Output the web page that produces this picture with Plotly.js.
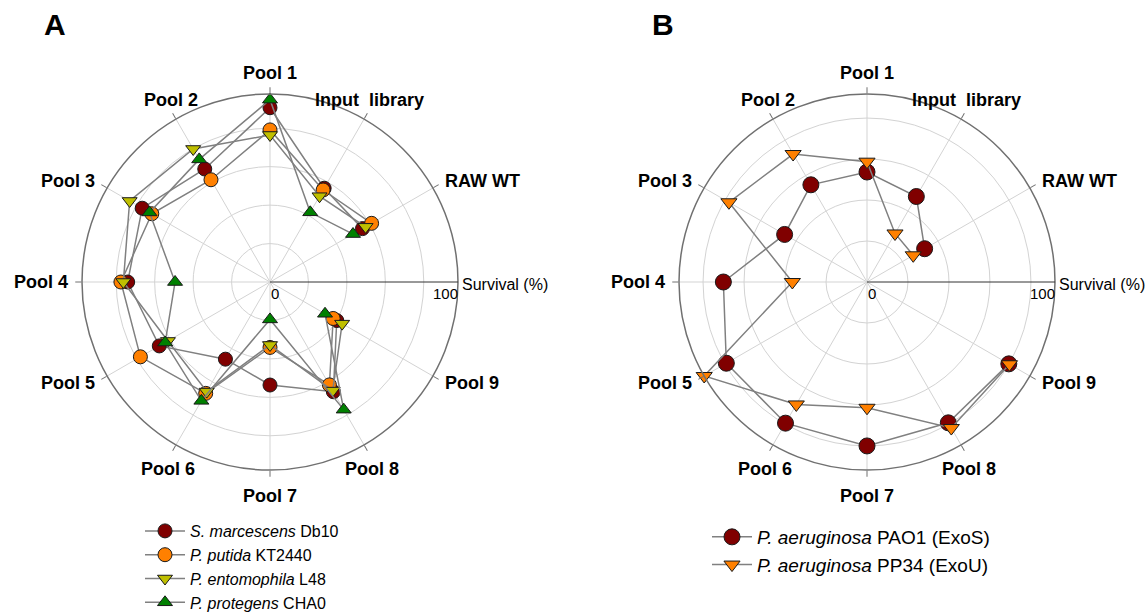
<!DOCTYPE html>
<html>
<head>
<meta charset="utf-8">
<script src="https://cdn.plot.ly/plotly-3.0.1.min.js"></script>
<style>
  html, body { margin: 0; padding: 0; background: #ffffff; }
  #chart { width: 1148px; height: 613px; }
</style>
</head>
<body>
<div id="chart"></div>
<script>
// Categories in drawing order (line runs RAW WT -> Input library -> Pool 1 ... Pool 9)
const categories = ["RAW WT", "Input\u00a0 library", "Pool 1", "Pool 2", "Pool 3", "Pool 4",
                    "Pool 5", "Pool 6", "Pool 7", "Pool 8", "Pool 9"];

// Panel A: survival (%)
const marcescensDb10 = [56.8, 57.6, 92.7, 69.4, 78.5, 75.7, 68.0, 47.4, 54.8, 67.4, 41.0];
const putidaKT2440   = [62.4, 56.5, 80.9, 62.8, 72.6, 79.3, 79.6, 68.4, 34.8, 63.2, 38.8];
const entomophilaL48 = [58.7, 52.7, 78.2, 81.7, 86.2, 78.0, 62.7, 67.3, 33.5, 66.7, 44.3];
const protegensCHA0  = [51.0, 42.8, 97.0, 75.3, 74.0, 50.5, 64.4, 73.0, 19.9, 78.4, 33.8];

// Panel B: survival (%)
const aeruginosaPAO1 = [35.4, 52.5, 58.5, 59.7, 50.6, 76.4, 86.4, 86.7, 87.2, 86.5, 87.1];
const aeruginosaPP34 = [28.4, 29.8, 64.0, 78.6, 84.8, 39.7, 100.0, 75.2, 66.9, 89.7, 87.5];

const seriesNamesA = ["<i>S. marcescens</i> Db10", "<i>P. putida</i> KT2440",
                      "<i>P. entomophila</i> L48", "<i>P. protegens</i> CHA0"];
const seriesNamesB = ["<i>P. aeruginosa</i> PAO1 (ExoS)", "<i>P. aeruginosa</i> PP34 (ExoU)"];

// angular position of each category: 30 degree steps, 0 degrees left empty for the radial axis
const theta = categories.map((c, i) => 30 + 30 * i);

const W = 1148, H = 613;
const FONT = "Liberation Sans, Arial, sans-serif";
const LINE = {color: "#808080", width: 1.5};

// geometry of the two polar panels (pixels)
const R = 188, CY = 282;
const CX_A = 270, CX_B = 867;

function trace(r, name, subplot, legend, group, color, symbol, size) {
  return {
    type: "scatterpolar", mode: "lines+markers",
    r: r, theta: theta, name: name, subplot: subplot, legend: legend, legendgroup: group,
    line: LINE,
    marker: {color: color, symbol: symbol, size: size, line: {color: "#1a1a1a", width: 1}},
    cliponaxis: false
  };
}

const data = [
  trace(marcescensDb10, seriesNamesA[0], "polar", "legend", "a", "#800000", "circle", 14),
  trace(putidaKT2440, seriesNamesA[1], "polar", "legend", "a", "#ff8000", "circle", 14),
  trace(entomophilaL48, seriesNamesA[2], "polar", "legend", "a", "#bfbf00", "triangle-down", 13),
  trace(protegensCHA0, seriesNamesA[3], "polar", "legend", "a", "#008000", "triangle-up", 13),
  trace(aeruginosaPAO1, seriesNamesB[0], "polar2", "legend2", "b", "#800000", "circle", 16),
  trace(aeruginosaPP34, seriesNamesB[1], "polar2", "legend2", "b", "#ff8000", "triangle-down", 14)
];

function polar(cx, gridStep) {
  return {
    domain: {x: [(cx - R) / W, (cx + R) / W], y: [1 - (CY + R) / H, 1 - (CY - R) / H]},
    bgcolor: "#ffffff",
    radialaxis: {
      range: [0, 100], angle: 0,
      tickvals: [1, 2, 3, 4].map(k => k * gridStep),
      showticklabels: false, ticks: "",
      showline: true, linecolor: "#333333", linewidth: 1,
      gridcolor: "#d3d3d3", gridwidth: 1
    },
    angularaxis: {
      type: "linear", thetaunit: "degrees", direction: "counterclockwise", rotation: 0,
      tickmode: "array", tickvals: theta, ticktext: categories,
      showticklabels: false,
      ticks: "outside", ticklen: 6, tickcolor: "#707070", tickwidth: 1,
      showline: true, linecolor: "#707070", linewidth: 1.5,
      gridcolor: "#d3d3d3", gridwidth: 1
    }
  };
}

function ann(text, px, py, xanchor, yanchor, size, bold) {
  return {
    text: text, xref: "paper", yref: "paper", x: px / W, y: 1 - py / H,
    xanchor: xanchor, yanchor: yanchor, showarrow: false, borderpad: 0,
    font: {family: FONT, size: size, color: "#000000", weight: bold ? "bold" : "normal"}
  };
}

// category labels around each panel
function categoryLabels(cx) {
  return categories.map((c, i) => {
    const a = theta[i] * Math.PI / 180;
    let xa = "center", ya = "middle", d = R + 13;
    if (Math.abs(Math.cos(a)) > 0.7) {
      xa = Math.cos(a) > 0 ? "left" : "right";
    } else if (Math.sin(a) > 0) {
      ya = "bottom"; d = R + 10;
    } else {
      ya = "top"; d = R + 15;
    }
    const px = cx + d * Math.cos(a), py = CY - d * Math.sin(a);
    return ann(c, px, py, xa, ya, 18, true);
  });
}

const layout = {
  width: W, height: H,
  margin: {l: 0, r: 0, t: 0, b: 0, autoexpand: false},
  paper_bgcolor: "#ffffff",
  font: {family: FONT, color: "#000000"},
  polar: polar(CX_A, 20.45),
  polar2: polar(CX_B, 21.8),
  showlegend: true,
  legend: {
    x: 140 / W, y: 1 - 514 / H, xanchor: "left", yanchor: "top",
    font: {family: FONT, size: 16, color: "#000000"},
    bgcolor: "rgba(0,0,0,0)", tracegroupgap: 0, itemwidth: 40
  },
  legend2: {
    x: 707 / W, y: 1 - 518 / H, xanchor: "left", yanchor: "top",
    font: {family: FONT, size: 19, color: "#000000"},
    bgcolor: "rgba(0,0,0,0)", tracegroupgap: 0, itemwidth: 40
  },
  annotations: [
    ann("A", 55, 25, "center", "middle", 30, true),
    ann("B", 663, 25, "center", "middle", 30, true),
    ann("0", CX_A, CY + 11, "left", "middle", 15, false),
    ann("100", CX_A + R + 1, CY + 11, "right", "middle", 15, false),
    ann("Survival (%)", CX_A + R + 3, CY + 2, "left", "middle", 16, false),
    ann("0", CX_B, CY + 11, "left", "middle", 15, false),
    ann("100", CX_B + R + 1, CY + 11, "right", "middle", 15, false),
    ann("Survival (%)", CX_B + R + 3, CY + 2, "left", "middle", 16, false)
  ].concat(categoryLabels(CX_A), categoryLabels(CX_B))
};

Plotly.newPlot("chart", data, layout, {displayModeBar: false, responsive: false});
</script>
</body>
</html>
